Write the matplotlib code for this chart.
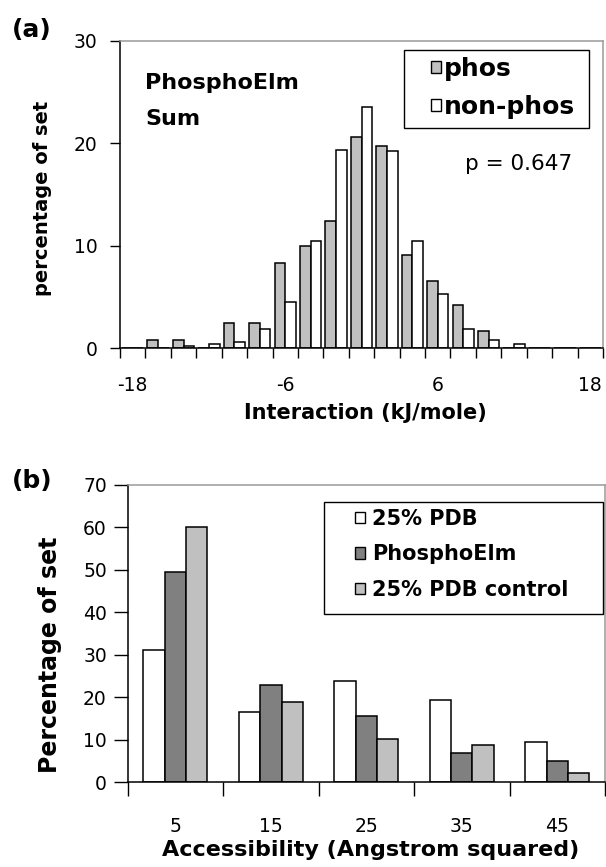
import matplotlib
matplotlib.use('Agg')
import matplotlib.pyplot as plt
from matplotlib.patches import Patch, Rectangle

# (a) histogram of interaction energies
bins = [-18, -16, -14, -12, -10, -8, -6, -4, -2, 0, 2, 4, 6, 8, 10, 12, 14, 16, 18]
phos = [0, 0.8, 0.8, 0, 2.5, 2.5, 8.3, 10.0, 12.4, 20.6, 19.7, 9.1, 6.6, 4.2, 1.7, 0, 0, 0, 0]
non_phos = [0, 0, 0.25, 0.4, 0.6, 1.9, 4.5, 10.5, 19.3, 23.5, 19.2, 10.5, 5.3, 1.9, 0.8, 0.4, 0, 0, 0]
a_ticks = [-18, -6, 6, 18]

# (b) accessibility
access = [5, 15, 25, 35, 45]
pdb25 = [31.2, 16.5, 23.9, 19.4, 9.6]
phosphoelm = [49.5, 22.8, 15.6, 6.9, 5.1]
pdb25_ctrl = [60.0, 18.8, 10.1, 8.7, 2.3]

LIGHT = '#c0c0c0'
DARK = '#808080'
W, H = 606, 867

plt.rcParams['font.family'] = 'DejaVu Sans'

fig = plt.figure(figsize=(W / 100, H / 100), dpi=100)


def axes_px(left, top, right, bottom):
    return fig.add_axes([left / W, 1 - bottom / H, (right - left) / W, (bottom - top) / H])


def frame(ax):
    for s in ('left', 'bottom'):
        ax.spines[s].set_color('black')
        ax.spines[s].set_linewidth(1.1)
    for s in ('top', 'right'):
        ax.spines[s].set_color('#9a9a9a')
        ax.spines[s].set_linewidth(1.1)


def box_px(left, top, right, bottom):
    # legend border drawn by hand, Excel style
    fig.patches.append(Rectangle((left / W, 1 - bottom / H), (right - left) / W, (bottom - top) / H,
                                 transform=fig.transFigure, fill=False,
                                 edgecolor='black', linewidth=1, zorder=5))


# ---------- (a) ----------
ax1 = axes_px(120, 40.7, 603, 348.3)
w = 0.84
ax1.bar([b - w / 2 for b in bins], phos, width=w, color=LIGHT, edgecolor='black', linewidth=1.1)
ax1.bar([b + w / 2 for b in bins], non_phos, width=w, color='white', edgecolor='black', linewidth=1.1)
ax1.set_xlim(-19, 19)
ax1.set_ylim(0, 30)
ax1.set_yticks([0, 10, 20, 30])
ax1.set_xticks(a_ticks)
ax1.set_xticks(list(range(-19, 20, 2)), minor=True)
ax1.tick_params(axis='x', which='major', length=0, pad=20, labelsize=13.5)
ax1.tick_params(axis='x', which='minor', length=7, width=1)
ax1.tick_params(axis='y', length=7, width=1, pad=9, labelsize=13.5)
ax1.set_xticklabels(['-18', '-6', '6', '18'])
frame(ax1)
ax1.set_xlabel('Interaction (kJ/mole)', fontsize=15, fontweight='bold')
ax1.xaxis.set_label_coords(0.509, -0.178)
ax1.xaxis.label.set_va('top')
ax1.set_ylabel('percentage of set', fontsize=14, fontweight='bold')
ax1.yaxis.set_label_coords(-0.141, 0.489)

ax1.text(0.052, 0.843, 'PhosphoElm', transform=ax1.transAxes, fontsize=16,
         fontweight='bold', va='baseline')
ax1.text(0.052, 0.726, 'Sum', transform=ax1.transAxes, fontsize=16,
         fontweight='bold', va='baseline')
ax1.text(0.714, 0.58, 'p = 0.647', transform=ax1.transAxes, fontsize=15.5, va='baseline')

box_px(404, 50, 589, 128)
ax1.legend(handles=[Patch(facecolor=LIGHT, edgecolor='black', label='phos'),
                    Patch(facecolor='white', edgecolor='black', label='non-phos')],
           loc='upper left', bbox_to_anchor=(431 / W, 1 - 57 / H),
           bbox_transform=fig.transFigure, prop={'size': 18, 'weight': 'bold'},
           handlelength=0.4, handleheight=0.4, handletextpad=0.1,
           labelspacing=0.56, borderpad=0, borderaxespad=0, frameon=False)

# ---------- (b) ----------
ax2 = axes_px(127.7, 485, 605, 782.3)
bw = 2.23
ax2.bar([x - bw for x in access], pdb25, width=bw, color='white', edgecolor='black', linewidth=1.1)
ax2.bar(access, phosphoelm, width=bw, color=DARK, edgecolor='black', linewidth=1.1)
ax2.bar([x + bw for x in access], pdb25_ctrl, width=bw, color=LIGHT, edgecolor='black', linewidth=1.1)
ax2.set_xlim(0, 50)
ax2.set_ylim(0, 70)
ax2.set_yticks(range(0, 71, 10))
ax2.set_xticks(access)
ax2.set_xticks(range(0, 51, 10), minor=True)
ax2.tick_params(axis='x', which='major', length=0, pad=25, labelsize=13.5)
ax2.tick_params(axis='x', which='minor', length=10, width=1)
ax2.tick_params(axis='y', length=10, width=1, pad=5, labelsize=13.5)
frame(ax2)
ax2.set_xlabel('Accessibility (Angstrom squared)', fontsize=16, fontweight='bold')
ax2.xaxis.set_label_coords(0.51, -0.193)
ax2.xaxis.label.set_va('top')
ax2.set_ylabel('Percentage of set', fontsize=17, fontweight='bold')
ax2.yaxis.set_label_coords(-0.138, 0.428)

box_px(324, 502, 603, 614)
ax2.legend(handles=[Patch(facecolor='white', edgecolor='black', label='25% PDB'),
                    Patch(facecolor=DARK, edgecolor='black', label='PhosphoElm'),
                    Patch(facecolor=LIGHT, edgecolor='black', label='25% PDB control')],
           loc='upper left', bbox_to_anchor=(355 / W, 1 - 509 / H),
           bbox_transform=fig.transFigure, prop={'size': 15, 'weight': 'bold'},
           handlelength=0.48, handleheight=0.48, handletextpad=0.35,
           labelspacing=0.74, borderpad=0, borderaxespad=0, frameon=False)

fig.text(12 / W, 1 - 30 / H, '(a)', fontsize=18, fontweight='bold', va='center')
fig.text(12 / W, 1 - 481 / H, '(b)', fontsize=18, fontweight='bold', va='center')

fig.savefig('out.png', dpi=100)
